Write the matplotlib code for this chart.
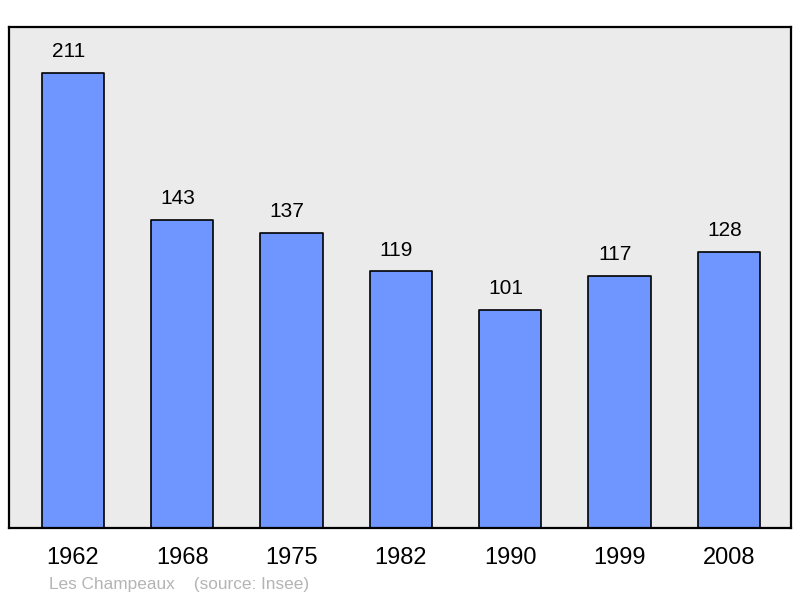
import numpy as np
import matplotlib.pyplot as plt

years = ["1962", "1968", "1975", "1982", "1990", "1999", "2008"]
population = [211, 143, 137, 119, 101, 117, 128]

plt.rcParams.update({
    "font.family": ["Liberation Sans", "DejaVu Sans"],
})

fig = plt.figure(figsize=(8.0, 5.98), dpi=100)
ax = fig.add_axes([9 / 800, 1 - 528 / 598, 782 / 800, 501 / 598])
ax.set_facecolor("#ebebeb")

x = np.arange(len(years))
ax.bar(x, population, width=0.57, color="#6f96ff", edgecolor="black",
       linewidth=1.2, joinstyle="round", zorder=2)

for xi, v in zip(x, population):
    ax.text(xi - 0.04, v + 5.5, str(v), ha="center", va="bottom", fontsize=15)

ax.set_xlim(-0.585, 6.57)
ax.set_ylim(0, 232.4)
ax.set_xticks(x)
ax.set_xticklabels(years, fontsize=17)
ax.set_yticks([])
ax.tick_params(axis="x", length=0, pad=14)
for s in ax.spines.values():
    s.set_linewidth(1.6)
    s.set_joinstyle("round")

fig.text(49 / 800, 1 - 585 / 598, "Les Champeaux    (source: Insee)",
         color="#b4b4b4", fontsize=12.4, va="center", ha="left")

fig.savefig("out.png", dpi=100)
